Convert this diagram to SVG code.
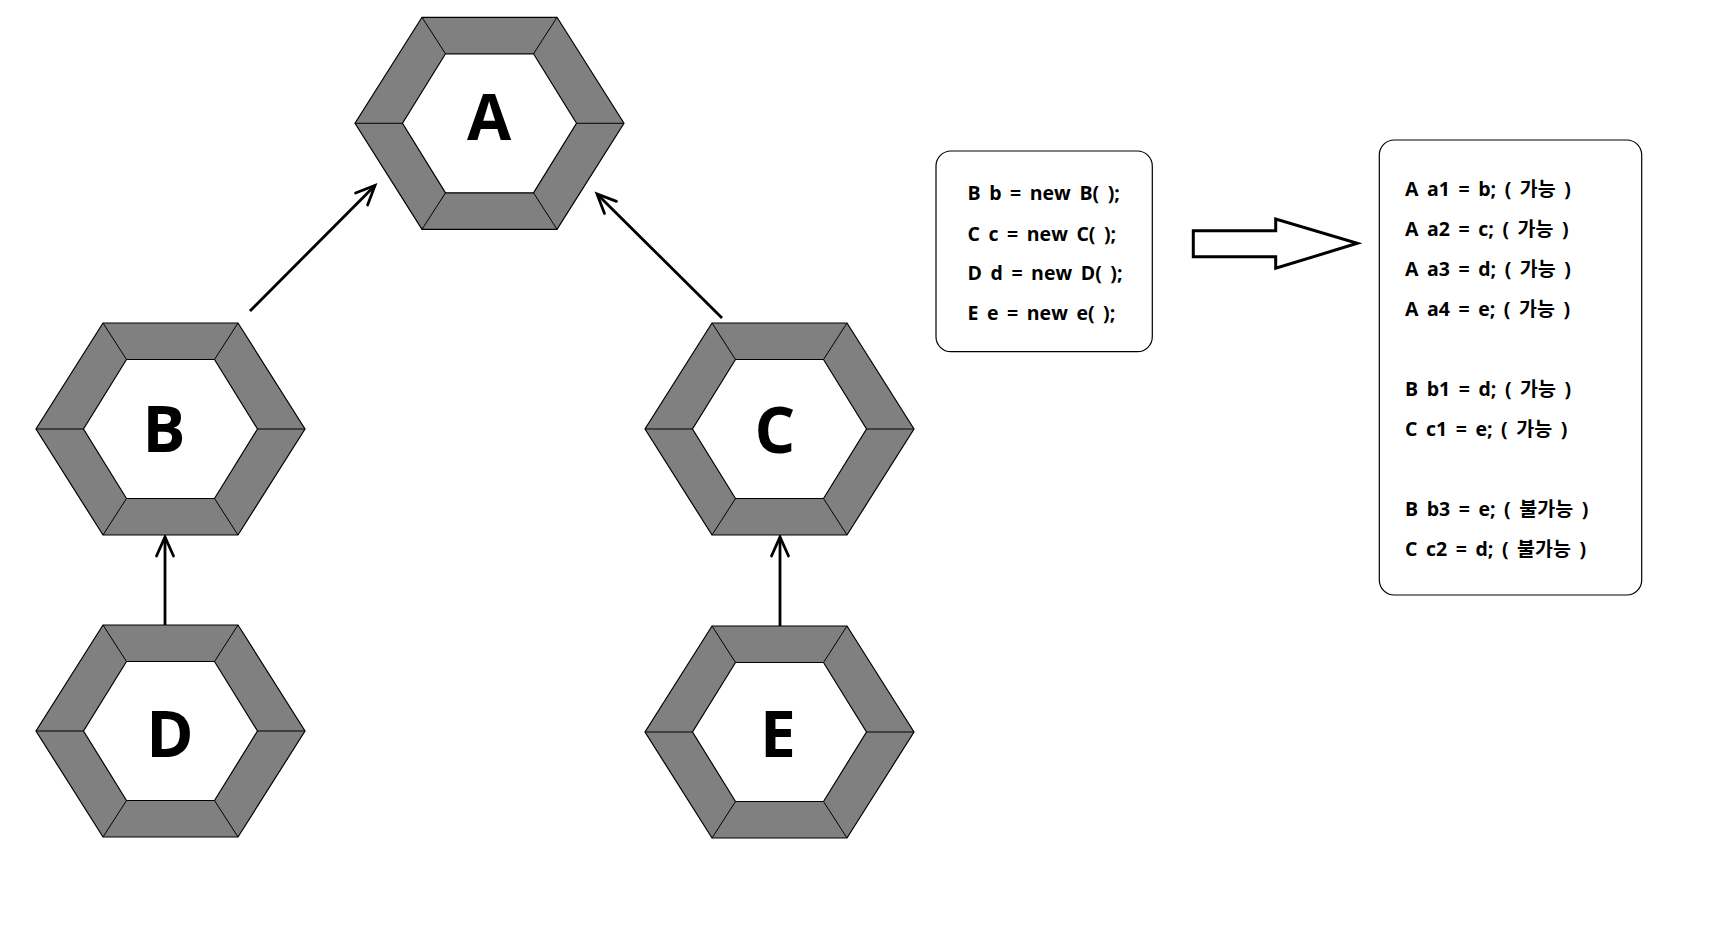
<svg xmlns="http://www.w3.org/2000/svg" xmlns:xlink="http://www.w3.org/1999/xlink" width="1720" height="928" viewBox="0 0 1720 928">
  <style>
    .frame-outer { fill: #808080; stroke: #000; stroke-width: 1.2; stroke-linejoin: miter; }
    .frame-inner { fill: #fff; stroke: #000; stroke-width: 1.2; }
    .bevel { stroke: #000; stroke-width: 1; fill: none; }
    .letter { font-family: "Open Sans", "Noto Sans CJK KR", sans-serif; font-weight: bold; font-size: 64px; fill: #000; text-anchor: middle; }
    .code { font-family: "Open Sans", "Noto Sans CJK KR", sans-serif; font-weight: bold; font-size: 19.5px; fill: #000; word-spacing: 3.5px; }
    .box { fill: #fff; stroke: #000; stroke-width: 1.2; }
    .link { stroke: #000; stroke-width: 2.8; fill: none; marker-end: url(#open-arrow); }
    .block-arrow { fill: #fff; stroke: #000; stroke-width: 3; stroke-linejoin: miter; }
  </style>
  <defs>
    <!-- hexagonal frame centred on the origin -->
    <g id="hex">
      <polygon class="frame-outer" points="-67.5,-106 67.5,-106 134.5,0 67.5,106 -67.5,106 -134.5,0"/>
      <polygon class="frame-inner" points="-44,-69.5 44,-69.5 87,0 44,69.5 -44,69.5 -87,0"/>
      <path class="bevel" d="M-67.5,-106 L-44,-69.5 M67.5,-106 L44,-69.5 M134.5,0 L87,0 M67.5,106 L44,69.5 M-67.5,106 L-44,69.5 M-134.5,0 L-87,0"/>
    </g>
    <marker id="open-arrow" markerUnits="userSpaceOnUse" viewBox="-24 -12 28 24" refX="0" refY="0" markerWidth="28" markerHeight="24" orient="auto" overflow="visible">
      <path d="M-19,-8.5 L0,0 L-19,8.5" fill="none" stroke="#000" stroke-width="2.8" stroke-linecap="round" stroke-linejoin="miter"/>
    </marker>
  </defs>

  <rect width="1720" height="928" fill="#fff"/>

  <g id="connectors">
    <line class="link" x1="250" y1="311" x2="375" y2="185.5"/>
    <line class="link" x1="722" y1="318" x2="597" y2="194"/>
    <line class="link" x1="165" y1="625" x2="165" y2="537"/>
    <line class="link" x1="780" y1="627" x2="780" y2="537"/>
  </g>

  <g id="node-A">
    <use xlink:href="#hex" href="#hex" transform="translate(489.5,123.3)"/>
    <text class="letter" x="489" y="140">A</text>
  </g>
  <g id="node-B">
    <use xlink:href="#hex" href="#hex" transform="translate(170.5,429)"/>
    <text class="letter" x="164" y="452">B</text>
  </g>
  <g id="node-C">
    <use xlink:href="#hex" href="#hex" transform="translate(779.5,429)"/>
    <text class="letter" x="775" y="452.5">C</text>
  </g>
  <g id="node-D">
    <use xlink:href="#hex" href="#hex" transform="translate(170.5,731)"/>
    <text class="letter" x="170" y="757">D</text>
  </g>
  <g id="node-E">
    <use xlink:href="#hex" href="#hex" transform="translate(779.5,732)"/>
    <text class="letter" x="778" y="757">E</text>
  </g>

  <g id="declarations">
    <rect class="box" x="936" y="151" width="216.3" height="200.7" rx="15" ry="15"/>
    <text class="code" x="967.5" y="200">B b = new B( );</text>
    <text class="code" x="967.5" y="240.5">C c = new C( );</text>
    <text class="code" x="967.5" y="279.5">D d = new D( );</text>
    <text class="code" x="967.5" y="320">E e = new e( );</text>
  </g>

  <g id="block-arrow">
    <polygon class="block-arrow" points="1193.3,230.7 1275.7,230.7 1275.7,219 1357.3,243.3 1275.7,268.3 1275.7,256.7 1193.3,256.7"/>
  </g>

  <g id="assignments">
    <rect class="box" x="1379.3" y="140" width="262.4" height="455" rx="15" ry="15"/>
    <text class="code" x="1405" y="196">A a1 = b; ( 가능 )</text>
    <text class="code" x="1405" y="236">A a2 = c; ( 가능 )</text>
    <text class="code" x="1405" y="276">A a3 = d; ( 가능 )</text>
    <text class="code" x="1405" y="316">A a4 = e; ( 가능 )</text>
    <text class="code" x="1405" y="396">B b1 = d; ( 가능 )</text>
    <text class="code" x="1405" y="436">C c1 = e; ( 가능 )</text>
    <text class="code" x="1405" y="516">B b3 = e; ( 불가능 )</text>
    <text class="code" x="1405" y="556">C c2 = d; ( 불가능 )</text>
  </g>
</svg>
